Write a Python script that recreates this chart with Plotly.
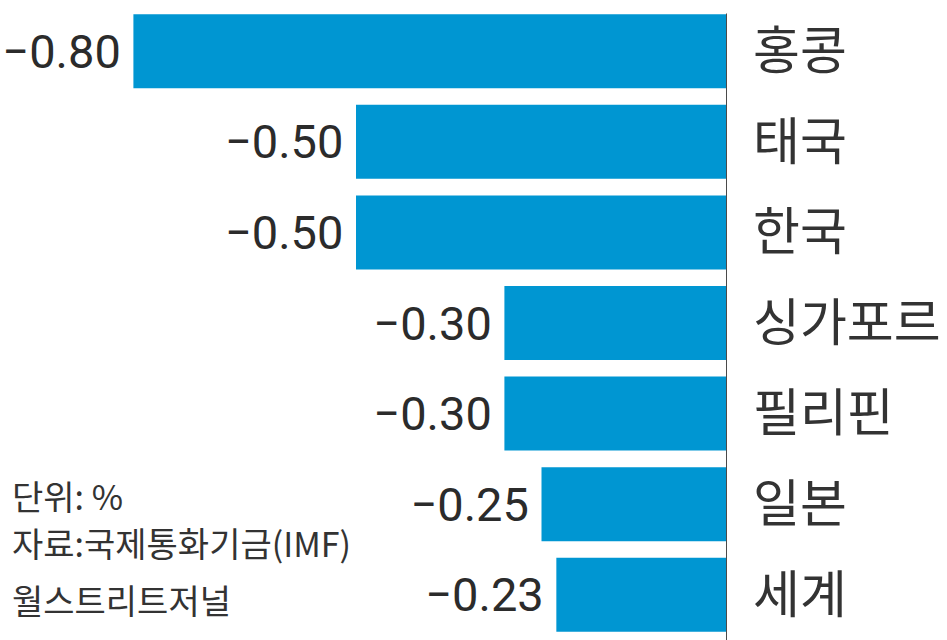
import plotly.graph_objects as go

countries = ["홍콩", "태국", "한국", "싱가포르", "필리핀", "일본", "세계"]
values = [-0.80, -0.50, -0.50, -0.30, -0.30, -0.25, -0.23]
value_labels = ["−0.80", "−0.50", "−0.50", "−0.30", "−0.30", "−0.25", "−0.23"]
note_lines = ["단위: %", "자료:국제통화기금(IMF)", "월스트리트저널"]

W, H = 947, 640
ml, mr, mt, mb = 0, 220, 6, 0
plot_w = W - ml - mr
plot_h = H - mt - mb
scale = 742.0
bargap = 0.183
n = len(countries)

fig = go.Figure(go.Bar(
    x=values, y=countries, orientation="h",
    marker=dict(color="#0096D2", line=dict(width=0)),
    text=[t + "\u2009" for t in value_labels], textposition="outside", cliponaxis=False,
    textfont=dict(family="Roboto, sans-serif", size=47, color="#2b2b2b"),
    hoverinfo="skip",
))

# vertical baseline from top of first bar down to bottom
fig.add_shape(type="line", xref="x", yref="y", x0=0, x1=0,
              y0=-(1 - bargap) / 2 - 0.01, y1=n - 0.5,
              line=dict(color="#4a4a4a", width=2), layer="above")

note_centers_px = [495, 542, 599]
annotations = [
    dict(xref="paper", yref="paper", x=10 / plot_w, y=(H - py) / plot_h,
         xanchor="left", yanchor="middle", align="left", showarrow=False,
         text=line, font=dict(family="Noto Sans CJK KR", size=34, color="#333333"))
    for line, py in zip(note_lines, note_centers_px)
]

fig.update_layout(
    width=W, height=H,
    margin=dict(l=ml, r=mr, t=mt, b=mb, autoexpand=False),
    paper_bgcolor="white", plot_bgcolor="white",
    bargap=bargap, showlegend=False,
    xaxis=dict(range=[-plot_w / scale, 0], visible=False, fixedrange=True, automargin=False),
    yaxis=dict(
        range=[n - 0.5, -0.5], side="right", showgrid=False, zeroline=False,
        showline=False, ticks="", ticklabelstandoff=25, fixedrange=True,
        automargin=False,
        tickfont=dict(family="Noto Sans CJK KR", size=51, color="#333333"),
    ),
    annotations=annotations,
)

fig.write_html("out.html", config={"displayModeBar": False},
               post_script="document.body.style.margin='0';")
